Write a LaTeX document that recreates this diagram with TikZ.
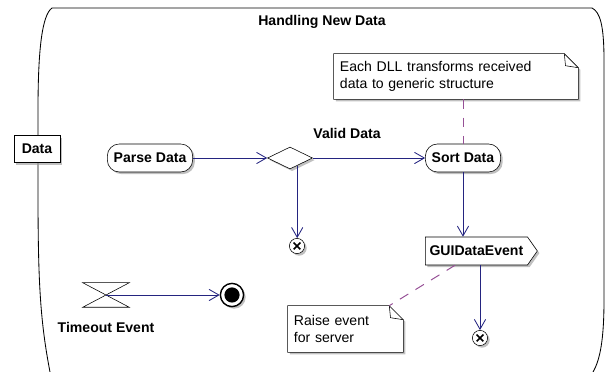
\documentclass[tikz,border=0pt]{standalone}
\usepackage{fontspec}
\setmainfont{Liberation Sans}
\usetikzlibrary{shapes.geometric,shapes.symbols,shadows,arrows.meta,backgrounds}
\definecolor{flowblue}{RGB}{36,36,128}
\definecolor{linkpurple}{RGB}{150,80,150}
\definecolor{shadowgray}{RGB}{150,150,150}

\begin{document}
\begin{tikzpicture}[
    x=0.025cm, y=-0.025cm,
    font=\fontsize{10}{12}\selectfont,
    shade/.style={drop shadow={shadow xshift=1.5pt, shadow yshift=-1.5pt, fill=shadowgray, opacity=0.6}},
    action/.style={rectangle, draw, fill=white, rounded corners=0.3cm, minimum height=0.7cm, inner xsep=4.5pt, font=\fontsize{10}{12}\selectfont\bfseries, shade},
    pin/.style={rectangle, draw, fill=white, minimum width=1.15cm, minimum height=0.68cm, font=\fontsize{10}{12}\selectfont\bfseries, shade},
    decision/.style={diamond, aspect=2, draw, fill=white, minimum width=1.125cm, minimum height=0.55cm, inner sep=0pt, shade},
    sendsignal/.style={signal, signal to=east, signal pointer angle=110, draw, fill=white, minimum height=0.7cm, inner xsep=3pt, font=\fontsize{10}{12}\selectfont\bfseries, shade},
    note/.style={align=left, inner xsep=0.15cm},
    tag/.style={font=\fontsize{10}{12}\selectfont\bfseries},
    flowfinal/.style={circle, draw, fill=white, minimum size=0.38cm, inner sep=0pt, shade,
        path picture={\draw[line width=1.2pt] ([shift={(-2.4pt,-2.4pt)}]path picture bounding box.center) -- ([shift={(2.4pt,2.4pt)}]path picture bounding box.center)
            ([shift={(-2.4pt,2.4pt)}]path picture bounding box.center) -- ([shift={(2.4pt,-2.4pt)}]path picture bounding box.center);}},
    activityfinal/.style={circle, draw, line width=1pt, fill=white, minimum size=0.58cm, inner sep=0pt, shade,
        path picture={\fill[black] (path picture bounding box.center) circle (0.19cm);}},
    flow/.style={draw=flowblue, line width=0.6pt, -{Straight Barb[length=7pt,width=8pt]}},
    link/.style={draw=linkpurple, line width=0.7pt, dash pattern=on 7pt off 6pt}
]
\useasboundingbox (0,0) rectangle (607,372);

% region
\draw[line width=0.6pt] (50,372) .. controls (40,320) and (38,280) .. (38,190) -- (38,110)
    .. controls (38,50) and (42,15) .. (52,8) -- (592,8)
    .. controls (600,12) and (604,25) .. (604,60) -- (604,300)
    .. controls (604,340) and (600,360) .. (593,372);
\node[tag] (title) at (322,22) {Handling New Data};

\node[pin] (data) at (37,149) {Data};
\node[action] (parse) at (150,158) {Parse Data};
\node[decision] (dec) at (290,158) {};
\node[tag] (valid) at (347,133) {Valid Data};
\node[action] (sort) at (463,158) {Sort Data};
\node[sendsignal, anchor=west] (gui) at (425,251) {GUIDataEvent};
\node[flowfinal] (fin1) at (297,246) {};
\node[flowfinal] (fin2) at (480,338) {};

\node[note, text width=5.8cm, minimum height=1.125cm] (note1) at (456,76.5) {Each DLL transforms received\\data to generic structure};
\node[note, text width=2.575cm, minimum height=1.15cm] (note2) at (345.5,329) {Raise event\\for server};

\node (timeout) at (106,295) [minimum width=1.15cm, minimum height=0.6cm, inner sep=0pt] {};
\draw (timeout.north west) -- (timeout.north east) -- (timeout.south west) -- (timeout.south east) -- cycle;
\node[tag] (tevent) at (106,327) {Timeout Event};
\node[activityfinal] (final) at (232,295) {};

\begin{scope}[on background layer]
\foreach \n in {note1,note2} {
    \draw[fill=white, shade] (\n.north west) -- ([xshift=-0.35cm]\n.north east) -- ([yshift=-0.35cm]\n.north east)
        -- (\n.south east) -- (\n.south west) -- cycle;
    \draw ([xshift=-0.35cm]\n.north east) -- ([xshift=-0.32cm,yshift=-0.3cm]\n.north east) -- ([yshift=-0.35cm]\n.north east);
}
\end{scope}

\draw[flow] (parse) -- (dec);
\draw[flow] (dec) -- (sort);
\draw[flow] (dec.-47) -- (dec.-47 |- fin1.north);
\draw[flow] (sort) -- (sort |- gui.north);
\draw[flow] (fin2 |- gui.south) -- (fin2);
\draw[flow] (timeout.center) -- (final);

\draw[link] (sort.north |- note1.south) -- (sort.north);
\draw[link] ([xshift=0.75cm]gui.south west) -- ([xshift=-0.35cm]note2.north east);

\end{tikzpicture}
\end{document}
